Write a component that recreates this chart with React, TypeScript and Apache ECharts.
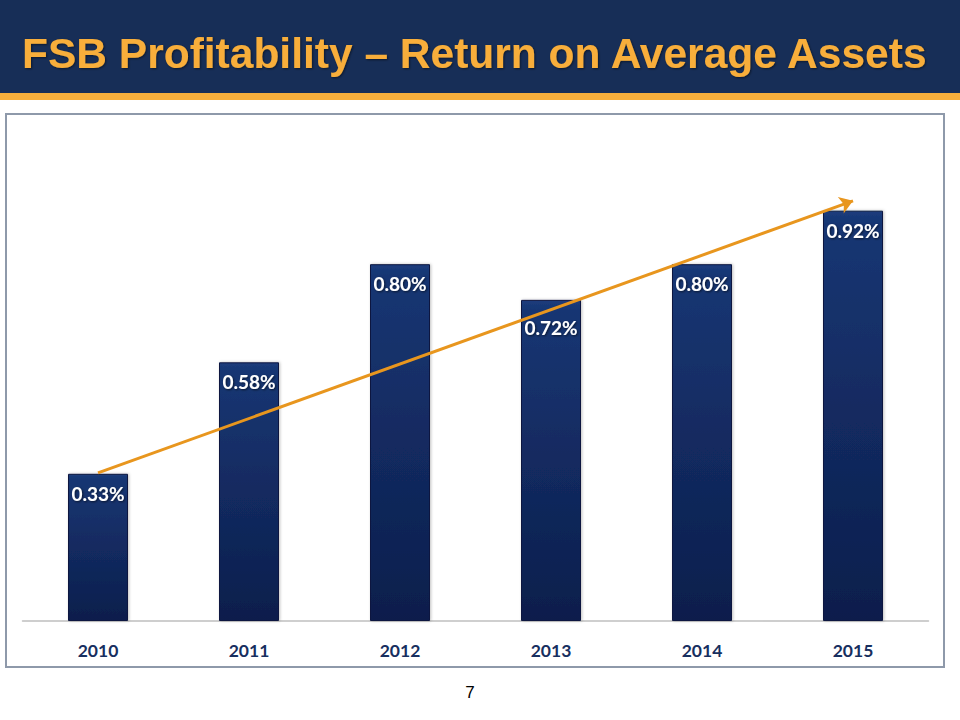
import React, { useEffect, useRef } from "react";
import * as echarts from "echarts";

const years = ["2010", "2011", "2012", "2013", "2014", "2015"];
const roaa = [0.33, 0.58, 0.8, 0.72, 0.8, 0.92];
const trendFrom = 0.332;
const trendTo = 0.942;
const titleText = "FSB Profitability \u2013 Return on Average Assets";
const pageNumber = "7";

export default function App() {
  const ref = useRef<HTMLDivElement>(null);
  useEffect(() => {
    if (!ref.current) return;
    const chart = echarts.init(ref.current, null, { renderer: "svg" });
    const option: any = {
      animation: false,
      backgroundColor: "#ffffff",
      title: {
        text: titleText,
        left: 17,
        top: 27,
        textStyle: {
          fontFamily: "Liberation Sans",
          fontWeight: "bold",
          fontSize: 42.5,
          color: "#F8AE3A",
          textShadowColor: "rgba(0,0,0,0.5)",
          textShadowBlur: 2,
          textShadowOffsetX: 1,
          textShadowOffsetY: 1,
        },
      },
      graphic: [
        { type: "rect", z: -10, shape: { x: 0, y: 0, width: 960, height: 93 }, style: { fill: "#172E57" } },
        { type: "rect", z: -10, shape: { x: 0, y: 93, width: 960, height: 7 }, style: { fill: "#F6AE3C" } },
        {
          type: "rect",
          z: -10,
          shape: { x: 6, y: 114, width: 938, height: 553 },
          style: { fill: "none", stroke: "#8E99AA", lineWidth: 2 },
        },
        {
          type: "text",
          x: 470,
          y: 692,
          style: {
            text: pageNumber,
            fontFamily: "Liberation Sans",
            fontSize: 17,
            fill: "#000000",
            textAlign: "center",
            textVerticalAlign: "middle",
          },
        },
      ],
      grid: { left: 22.5, right: 31.5, top: 175, bottom: 99 },
      xAxis: {
        type: "category",
        data: years,
        axisLine: { lineStyle: { color: "#BFBFBF", width: 1.5 } },
        axisTick: { show: false },
        axisLabel: {
          margin: 20,
          fontFamily: "Lato",
          fontWeight: "bold",
          fontSize: 17.5,
          color: "#172F5F",
        },
      },
      yAxis: { type: "value", min: 0, max: 1, show: false, splitLine: { show: false } },
      series: [
        {
          type: "bar",
          barWidth: 60,
          data: roaa.map((v, i) => (i === 3 ? { value: v, label: { distance: 18 } } : v)),
          itemStyle: {
            color: new echarts.graphic.LinearGradient(0, 0, 0, 1, [
              { offset: 0, color: "#1B3C7C" },
              { offset: 0.03, color: "#173673" },
              { offset: 1, color: "#0D1E4C" },
            ]),
            borderColor: "#0A1840",
            borderWidth: 1,
            shadowColor: "rgba(0,0,0,0.25)",
            shadowBlur: 3,
            shadowOffsetX: 1,
          },
          label: {
            show: true,
            position: "insideTop",
            distance: 10,
            formatter: (p: any) => Number(p.value).toFixed(2) + "%",
            fontFamily: "Lato",
            fontWeight: "bold",
            fontSize: 19,
            color: "#FFFFFF",
            textShadowColor: "rgba(0,0,0,0.6)",
            textShadowBlur: 2,
            textShadowOffsetX: 1,
            textShadowOffsetY: 1,
          },
          markLine: {
            silent: true,
            symbol: ["none", "arrow"],
            symbolSize: 13,
            label: { show: false },
            lineStyle: { color: "#E8961E", width: 3, type: "solid" },
            data: [[{ coord: [years[0], trendFrom] }, { coord: [years[5], trendTo] }]],
          },
        },
      ],
    };
    chart.setOption(option);
    return () => chart.dispose();
  }, []);
  return (
    <div
      ref={ref}
      style={{ position: "fixed", left: 0, top: 0, width: 960, height: 720 }}
    />
  );
}
